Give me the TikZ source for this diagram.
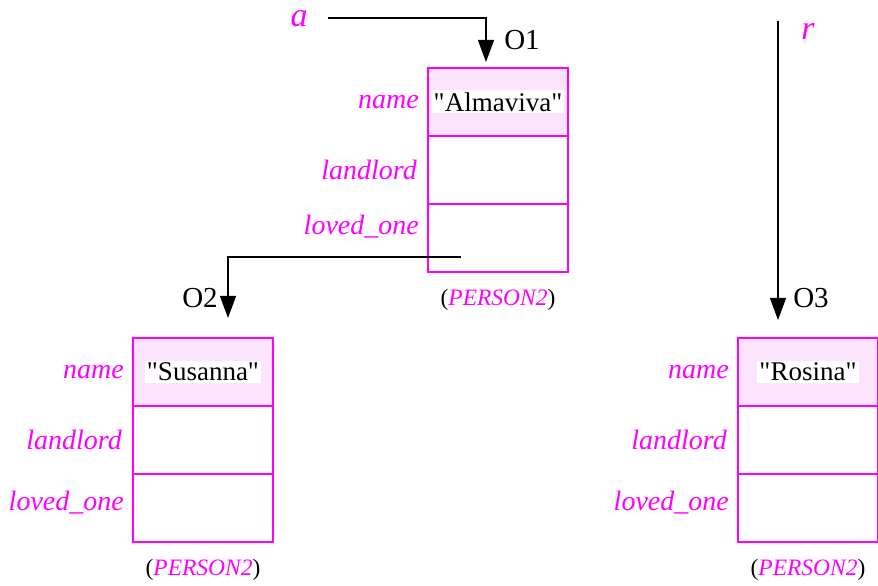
\documentclass[tikz,border=0pt]{standalone}
\usepackage{fontspec}
\setmainfont{Liberation Serif}
\usetikzlibrary{arrows.meta,positioning}
\definecolor{objMagenta}{HTML}{FF00FF}
\definecolor{objPink}{HTML}{FCE4FC}
\tikzset{
  obj cell/.style={draw=objMagenta, line width=1.2bp, minimum width=140bp, minimum height=68bp, inner sep=0pt, outer sep=0pt},
  obj head/.style={obj cell, fill=objPink},
  obj field/.style={font=\fontsize{28bp}{32bp}\selectfont\itshape, text=objMagenta, inner sep=1bp},
  obj value/.style={fill=white, font=\fontsize{27bp}{31bp}\selectfont, inner sep=2bp},
  obj class/.style={font=\fontsize{23.5bp}{27bp}\selectfont, inner sep=2bp},
  obj name/.style={font=\fontsize{29bp}{33bp}\selectfont, inner sep=2bp},
  obj var/.style={font=\fontsize{34bp}{38bp}\selectfont\itshape, text=objMagenta, inner sep=2bp},
  obj ptr/.style={draw=black, line width=1.2bp, -{Triangle[length=22bp,width=16bp]}},
}

\begin{document}
\begin{tikzpicture}[x=1bp,y=-1bp]
  \useasboundingbox (0,0) rectangle (878,586);
  % the three objects
  \foreach \id/\x/\y/\val/\dy in {1/498/102/Almaviva/11,2/203/372/Susanna/5,3/808/372/Rosina/5} {
    \node[obj head] (o\id name) at (\x,\y) {};
    \node[obj cell, below=0pt of o\id name] (o\id land) {};
    \node[obj cell, below=0pt of o\id land] (o\id loved) {};
    \node[obj value] (o\id val) at (o\id name) {\textquotedbl\val\textquotedbl};
    \node[obj field, left=8bp of o\id name] (o\id namelbl) {name};
    \node[obj field, left=10bp of o\id land] (o\id landlbl) {landlord};
    \node[obj field, left=8bp of o\id loved, yshift=\dy bp] (o\id lovedlbl) {loved\_one};
    \node[obj class, below=15bp of o\id loved] (o\id class) {(\textcolor{objMagenta}{\itshape PERSON2})};
  }
  \node[obj name] (o1lbl) at (522,40) {O1};
  \node[obj name] (o2lbl) at (200,298) {O2};
  \node[obj name] (o3lbl) at (811,298) {O3};
  % references
  \node[obj var] (a) at (299,19) {a};
  \node[obj var] (r) at (808,31) {r};
  \coordinate (o1in) at ([xshift=-12bp,yshift=6bp]o1name.north);
  \coordinate (o2in) at ([xshift=25bp,yshift=20bp]o2name.north);
  \coordinate (o3in) at ([xshift=-30bp,yshift=18bp]o3name.north);
  \coordinate (o1ref) at ([xshift=-37bp,yshift=-19bp]o1loved.center);
  \draw[obj ptr] ([xshift=18bp,yshift=1bp]a.east) -| (o1in);
  \draw[obj ptr] (r.north -| o3in) -- (o3in);
  \draw[obj ptr] (o1ref) -| (o2in);
\end{tikzpicture}
\end{document}
